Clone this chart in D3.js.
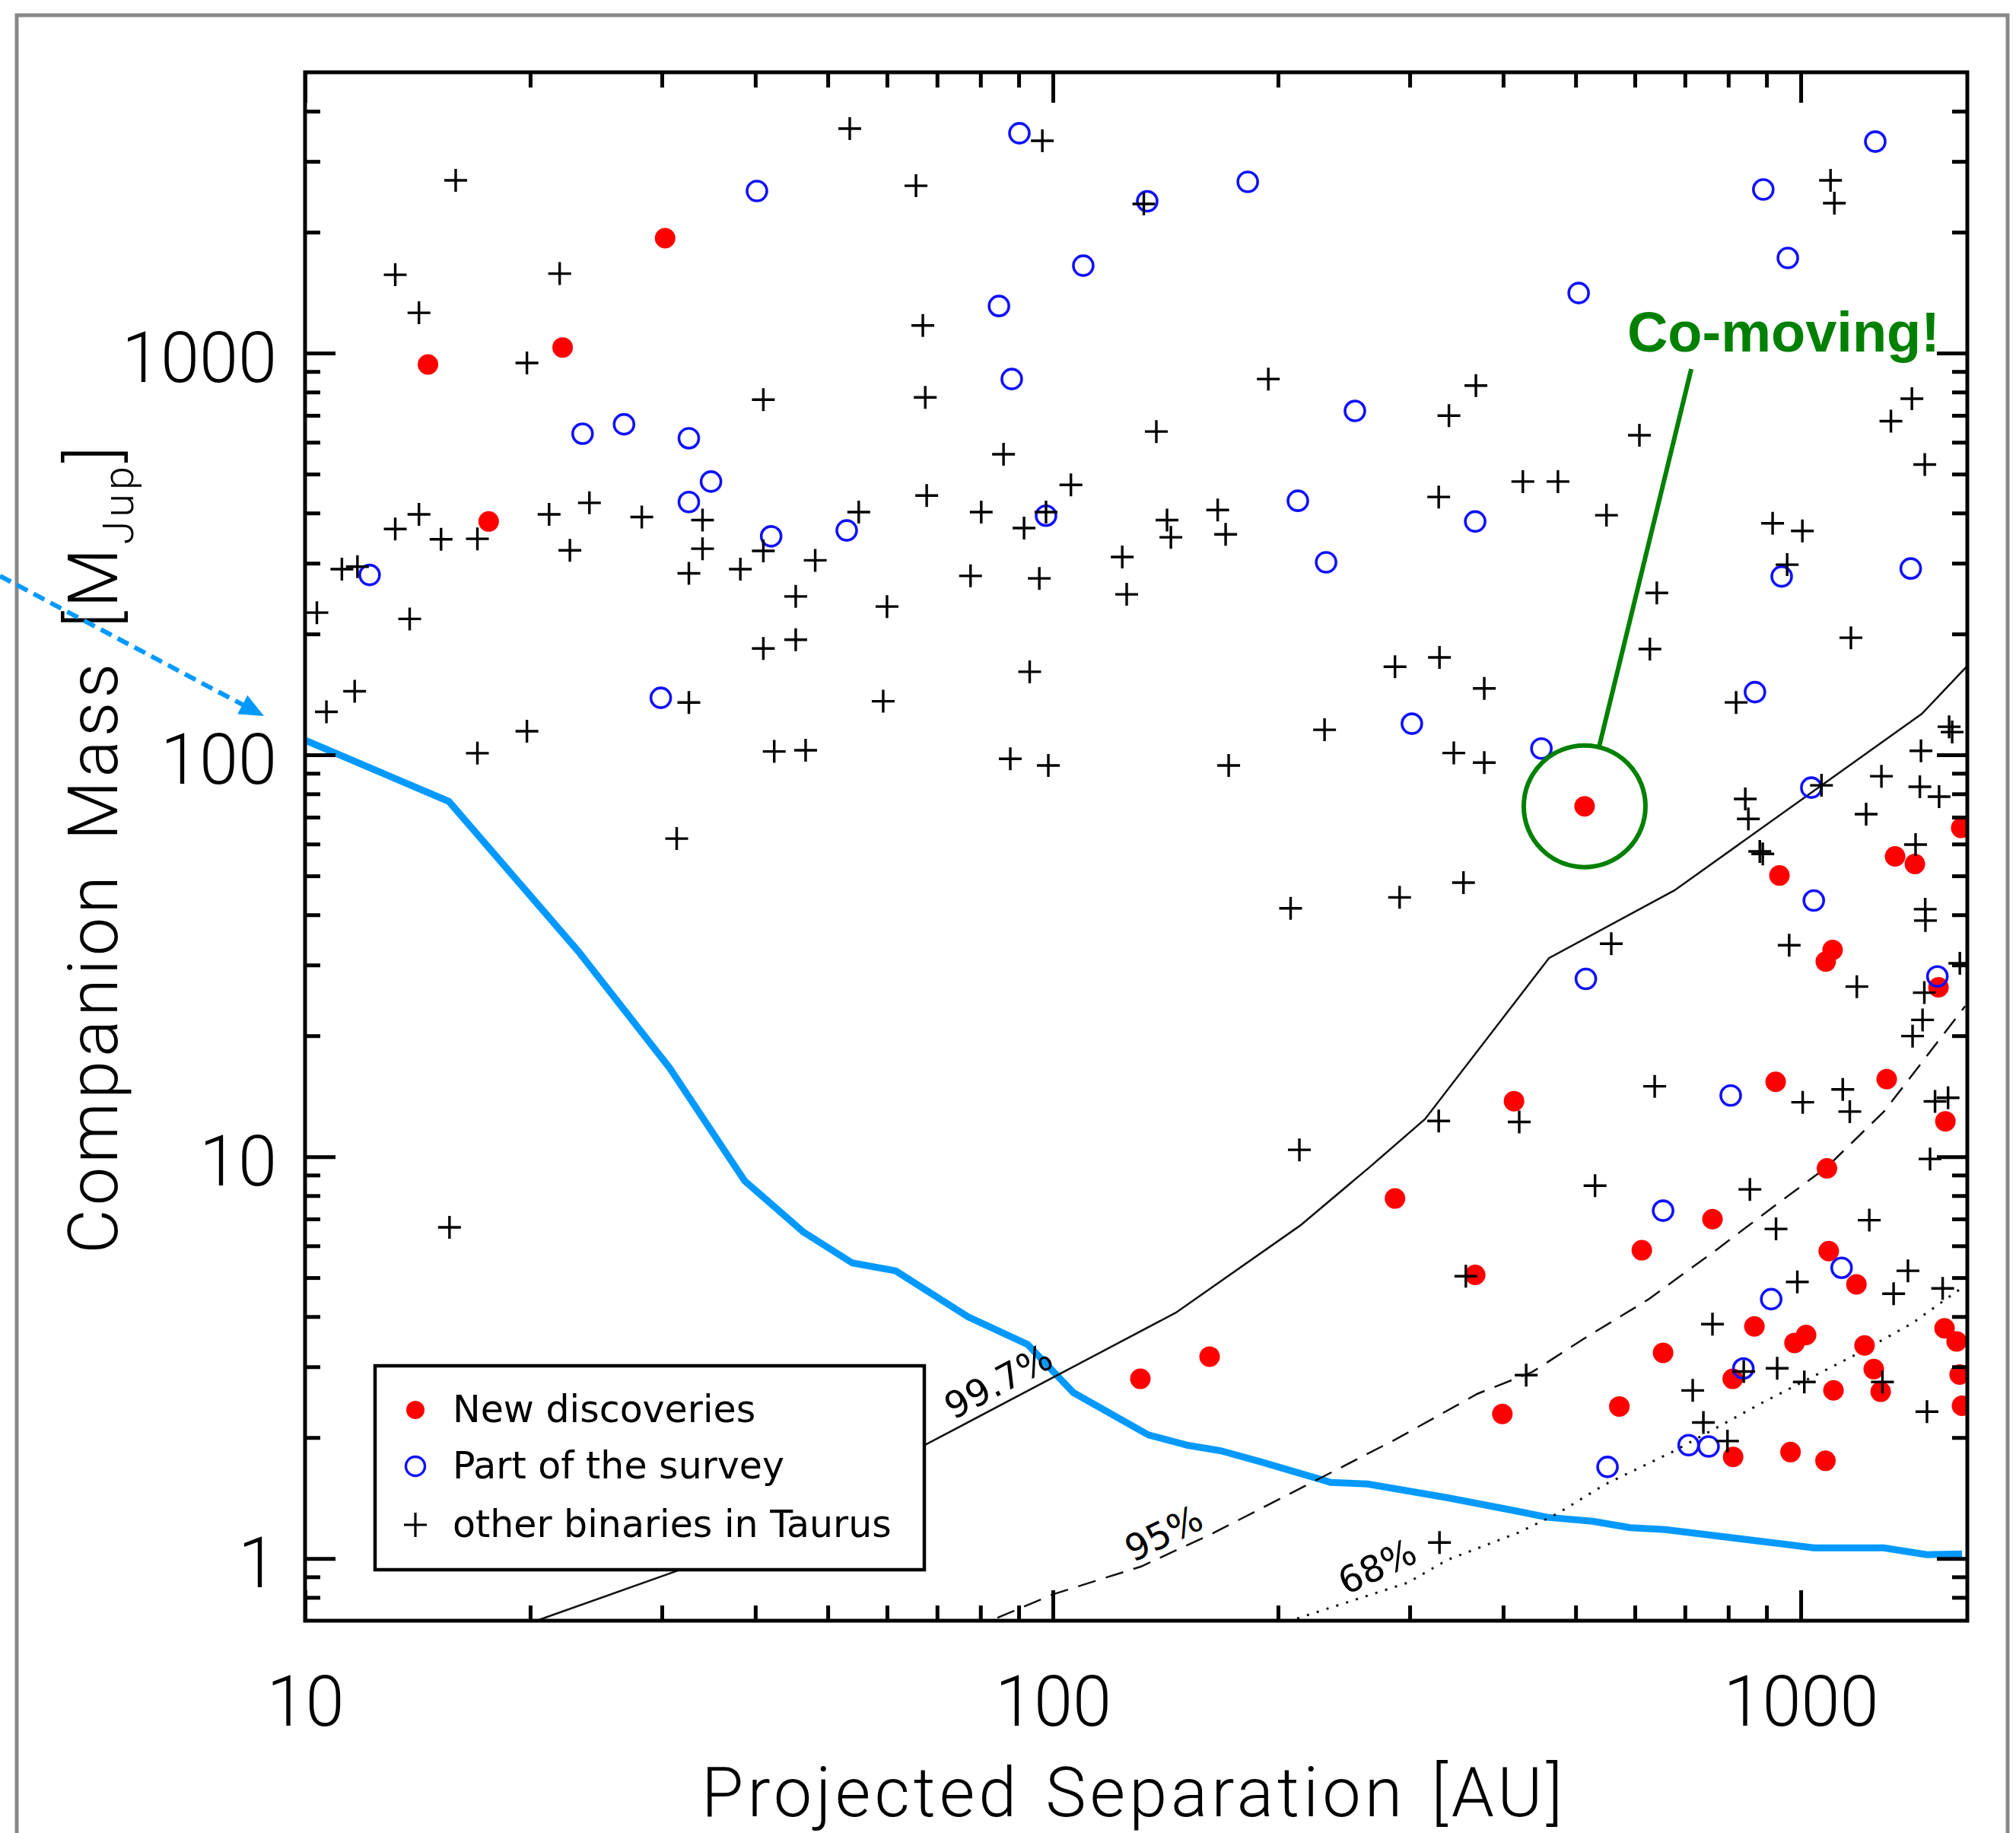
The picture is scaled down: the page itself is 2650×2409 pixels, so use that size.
<!DOCTYPE html>
<html>
<head>
<meta charset="utf-8">
<script src="https://cdn.jsdelivr.net/npm/d3@7"></script>
<style>
body { margin: 0; background: #fff; }
svg { display: block; }
</style>
</head>
<body>
<script>
// New discoveries (red dots): projected separation [AU], companion mass [MJup]
var newSep = [14.6, 22.1, 30.3, 17.6, 514, 130.9, 162, 286.7, 367, 399, 413.6, 572, 613, 654.5, 762,
  811, 812, 867, 925.6, 936.5, 969, 981, 1016.5, 1079, 1080, 1103, 1084, 1090, 1106, 1187, 1217,
  1252, 1279, 1303, 1337, 1421, 1528, 1561, 1557, 1616, 1631, 1643, 1639]
var newMass = [937, 1033, 1932, 381, 74.5, 2.80, 3.18, 7.87, 5.08, 2.29, 13.75, 2.39, 5.85, 3.25, 6.99,
  2.80, 1.79, 3.78, 15.36, 50.1, 1.84, 3.44, 3.60, 1.75, 30.6, 32.7, 9.35, 5.82, 2.62, 4.81, 3.39,
  2.96, 2.60, 15.6, 55.9, 53.5, 26.4, 12.25, 3.74, 3.47, 2.87, 2.40, 65.8]

// Part of the survey (blue open circles)
var surveySep = [12.2, 23.5, 26.7, 32.6, 34.9, 32.6, 29.9, 40.2, 42.0, 53.0, 84.7, 88.1, 90.2, 97.9,
  109.8, 133.7, 182.2, 212.6, 231.9, 253.4, 302, 367, 450, 504.7, 516, 551.6, 654.5, 708, 753, 806,
  838, 868.5, 891, 913, 943, 961, 1033, 1041, 1134, 1258, 1403, 1523]
var surveyMass = [280.5, 630, 665, 614, 479, 426, 138.7, 2532, 350, 362, 1310, 862, 3526, 394,
  1651, 2387, 2668, 429, 301.5, 718, 119.6, 381, 103.7, 1411, 27.7, 1.69, 7.34, 1.915, 1.90, 14.2,
  2.97, 143.3, 2554, 4.42, 278, 1725, 82.9, 43.4, 5.29, 3361, 291, 28.1]

// other binaries in Taurus (plus signs)
var otherSep = [15.9, 13.2, 14.2, 19.8, 21.9, 14.2, 13.2, 15.2, 17.0, 21.2, 24.0, 22.6, 28.2, 11.2,
  11.75, 10.37, 13.8, 11.65, 10.68, 17.0, 19.8, 31.4, 15.6, 53.5, 96.8, 65.6, 132.3, 67.0, 41.0,
  67.5, 194.1, 137.5, 85.9, 105.7, 67.8, 55.0, 80.2, 97.9, 91.5, 34.0, 34.0, 41.0, 48.1, 32.6, 38.2,
  45.3, 60.0, 77.6, 95.9, 123.8, 125.5, 142.1, 143.8, 166.1, 170.2, 41.0, 45.3, 93.1, 32.6, 59.3,
  230.8, 42.4, 46.7, 87.7, 98.6, 171.8, 207.9, 213.6, 530.8, 356.6, 429.4, 328.8, 1096, 1109, 367.8,
  338.5, 608.5, 1408, 1320, 1465, 425, 473.5, 328, 549.8, 917, 1005, 959, 642, 1167, 286.7, 328.8,
  628.4, 377.4, 343.6, 377.4, 819.5, 1579, 1594, 1448, 1282, 1443, 1531, 1223, 1066, 843, 851,
  881.5, 889.6, 1424, 354, 290.8, 1467, 1468, 558, 965, 1188.5, 1632, 1463, 1455, 1411, 637.8,
  1006, 1138, 1163, 1512, 1574, 1489, 328, 420.3, 855, 926.7, 1235, 1391, 989.5, 1331, 1548, 762,
  839, 930, 1011, 1286, 717, 1475, 741, 798]
var otherMass = [2691, 1567, 1260, 945, 1577, 397, 365, 344, 345, 397, 424, 323, 391, 290,
  294, 226, 218, 144, 128, 101, 114.5, 61.9, 6.67, 3620, 3376, 2610, 2351, 1172, 766,
  776, 862, 638, 560, 470, 442, 402, 402, 402, 367, 384, 326, 322, 305, 283, 290,
  248, 234, 279, 275, 311, 251, 384, 348, 407, 354, 184, 193.5, 161, 135, 136,
  115.5, 102, 102.7, 97.8, 94.1, 94.1, 41.5, 10.4, 8.47, 5.04, 2.86, 1.096, 2691, 2361, 830,
  699, 624.5, 770, 677, 528, 479, 479, 438.5, 395, 377, 361, 297.5, 253, 195.7, 165.8, 174.8,
  183.4, 146.4, 101.1, 95.7, 135.1, 117.5, 114, 102.4, 88.5, 83.3, 78.7, 71.2, 84.0, 77.7, 69.3,
  57.5, 56.7, 59.8, 48.1, 44.2, 41.3, 38.7, 33.9, 33.6, 26.5, 30.3, 25.6, 21.9, 19.96, 14.97,
  13.66, 14.7, 12.95, 13.73, 14.02, 9.87, 12.27, 12.2, 8.29, 6.61, 6.95, 5.20, 4.88, 4.56, 4.70, 3.83,
  2.92, 2.975, 2.75, 2.75, 2.62, 2.32, 2.18, 1.96]

// detection limit of the survey (thick blue line)
var limitSep = [10.02, 15.57, 23.24, 30.7, 38.7, 46.4, 53.9, 61.6, 77.1, 92.5, 106.4, 134.2, 151,
  167.8, 189.6, 235.1, 263.2, 336.5, 413.6, 458.4, 526.4, 591.7, 659, 1041, 1291, 1475, 1643]
var limitMass = [108.6, 76.6, 32.3, 16.66, 8.71, 6.49, 5.44, 5.20, 3.99, 3.41, 2.59, 2.03, 1.915,
  1.853, 1.740, 1.547, 1.533, 1.417, 1.316, 1.266, 1.238, 1.193, 1.180, 1.063, 1.063, 1.022, 1.026]

// chance-alignment contours
var c997Sep = [20.4, 31.5, 67.4, 146, 214.1, 265, 314.5, 460.6, 677.8, 1452, 1670]
var c997Mass = [0.70, 0.933, 1.915, 4.09, 6.74, 9.41, 12.41, 31.2, 46.0, 126.6, 166.6]
var c95Sep = [84.3, 100.2, 131.2, 162.8, 216.1, 286.7, 369.6, 437.4, 513.1, 624.5, 774.7, 925.6, 1083, 1294, 1659]
var c95Mass = [0.712, 0.815, 0.955, 1.150, 1.507, 1.975, 2.570, 2.911, 3.526, 4.405, 5.90, 7.58, 9.41, 12.99, 23.7]
var c68Sep = [212.1, 298, 336.5, 419.4, 472.7, 546.4, 676.2, 885.5, 1212, 1411, 1630]
var c68Mass = [0.709, 0.870, 0.991, 1.160, 1.293, 1.526, 1.849, 2.434, 3.289, 3.855, 4.67]

var contourLabels = ['99.7%', '95%', '68%']
var contourLabelSep = [84.5, 140.6, 271.3]
var contourLabelMass = [2.76, 1.157, 0.957]
var contourLabelAngle = [-28, -26, -25]

var xMajor = [10, 100, 1000]
var xMinor = [20, 30, 40, 50, 60, 70, 80, 90, 200, 300, 400, 500, 600, 700, 800, 900]
var yMajor = [1, 10, 100, 1000]
var yMinor = [0.8, 0.9, 2, 3, 4, 5, 6, 7, 8, 9, 20, 30, 40, 50, 60, 70, 80, 90,
  200, 300, 400, 500, 600, 700, 800, 900, 2000, 3000, 4000]

var legendLabels = ['New discoveries', 'Part of the survey', 'other binaries in Taurus']

// co-moving candidate
var comovSep = 514, comovMass = 74.5
var comovLabelSep = 586, comovLabelMass = 1009
var comovLineSep = 713.8, comovLineMass = 912.6

var margin = {top: 95, left: 401}
var width = 2185
var height = 2035
var axisFont = 'Roboto, "Open Sans", sans-serif'
var blue = '#0099ff'

var x = d3.scaleLog().domain([10, 1670]).range([0, width])
var y = d3.scaleLog().domain([0.7, 5000]).range([height, 0])

var svg = d3.select('body').append('svg')
  .attr('width', 2650)
  .attr('height', 2409)

// slide frame
svg.append('rect')
  .attr('x', 22).attr('y', 20)
  .attr('width', 2617).attr('height', 2500)
  .attr('fill', 'none')
  .attr('stroke', '#888')
  .attr('stroke-width', 5)

var g = svg.append('g')
  .attr('transform', `translate(${margin.left}, ${margin.top})`)

g.append('clipPath').attr('id', 'plotclip')
  .append('rect').attr('width', width).attr('height', height)

var plot = g.append('g').attr('clip-path', 'url(#plotclip)')

var line = d3.line().x(d => x(d[0])).y(d => y(d[1]))

plot.append('path')
  .datum(d3.zip(limitSep, limitMass))
  .attr('d', line)
  .attr('fill', 'none')
  .attr('stroke', blue)
  .attr('stroke-width', 9)
  .attr('stroke-linejoin', 'round')

plot.append('path')
  .datum(d3.zip(c997Sep, c997Mass))
  .attr('d', line)
  .attr('fill', 'none')
  .attr('stroke', '#111')
  .attr('stroke-width', 2.5)

plot.append('path')
  .datum(d3.zip(c95Sep, c95Mass))
  .attr('d', line)
  .attr('fill', 'none')
  .attr('stroke', '#111')
  .attr('stroke-width', 2.5)
  .attr('stroke-dasharray', '24,14')

plot.append('path')
  .datum(d3.zip(c68Sep, c68Mass))
  .attr('d', line)
  .attr('fill', 'none')
  .attr('stroke', '#111')
  .attr('stroke-width', 3)
  .attr('stroke-dasharray', '3,10.5')

plot.selectAll('text.clabel')
  .data(contourLabels)
  .enter().append('text')
  .attr('class', 'clabel')
  .attr('transform', (d, i) => `translate(${x(contourLabelSep[i])}, ${y(contourLabelMass[i])}) rotate(${contourLabelAngle[i]})`)
  .attr('text-anchor', 'middle')
  .attr('dy', '0.36em')
  .attr('font-family', '"DejaVu Sans", sans-serif')
  .attr('font-size', 48)
  .text(d => d)

// points: red first, then blue circles, plus signs on top
plot.selectAll('circle.new')
  .data(d3.zip(newSep, newMass))
  .enter().append('circle')
  .attr('class', 'new')
  .attr('cx', d => x(d[0]))
  .attr('cy', d => y(d[1]))
  .attr('r', 13.5)
  .attr('fill', '#ff0000')

plot.selectAll('circle.survey')
  .data(d3.zip(surveySep, surveyMass))
  .enter().append('circle')
  .attr('class', 'survey')
  .attr('cx', d => x(d[0]))
  .attr('cy', d => y(d[1]))
  .attr('r', 13)
  .attr('fill', 'none')
  .attr('stroke', '#1010ff')
  .attr('stroke-width', 3.6)

var plusPath = 'M-15,0H15M0,-15V15'
plot.selectAll('path.other')
  .data(d3.zip(otherSep, otherMass))
  .enter().append('path')
  .attr('class', 'other')
  .attr('transform', d => `translate(${x(d[0])}, ${y(d[1])})`)
  .attr('d', plusPath)
  .attr('stroke', '#000')
  .attr('stroke-width', 3.4)

// axes, ticks inward on all four sides
function styleAxis(sel, labels) {
  sel.select('.domain').remove()
  sel.selectAll('line').attr('stroke', '#000').attr('stroke-width', 5)
  sel.attr('font-family', axisFont).attr('font-size', labels ? 92 : 10).attr('font-weight', 300)
  if (!labels) sel.selectAll('text').remove()
  return sel
}

styleAxis(g.append('g').attr('transform', `translate(0, ${height})`)
  .call(d3.axisBottom(x).tickValues(xMajor).tickSize(-40).tickPadding(73).tickFormat(d3.format('d'))), true)
styleAxis(g.append('g').attr('transform', `translate(0, ${height})`)
  .call(d3.axisBottom(x).tickValues(xMinor).tickSize(-20)), false)
styleAxis(g.append('g')
  .call(d3.axisTop(x).tickValues(xMajor).tickSize(-40)), false)
styleAxis(g.append('g')
  .call(d3.axisTop(x).tickValues(xMinor).tickSize(-20)), false)

var yl = styleAxis(g.append('g')
  .call(d3.axisLeft(y).tickValues(yMajor).tickSize(-40).tickPadding(37).tickFormat(d3.format('d'))), true)
yl.selectAll('text').attr('dy', '0.41em')
styleAxis(g.append('g')
  .call(d3.axisLeft(y).tickValues(yMinor).tickSize(-20)), false)
styleAxis(g.append('g').attr('transform', `translate(${width}, 0)`)
  .call(d3.axisRight(y).tickValues(yMajor).tickSize(-40)), false)
styleAxis(g.append('g').attr('transform', `translate(${width}, 0)`)
  .call(d3.axisRight(y).tickValues(yMinor).tickSize(-20)), false)

g.append('rect')
  .attr('width', width).attr('height', height)
  .attr('fill', 'none')
  .attr('stroke', '#000')
  .attr('stroke-width', 5)

// axis titles
svg.append('text')
  .attr('x', margin.left + width / 2 - 3)
  .attr('y', 2387)
  .attr('text-anchor', 'middle')
  .attr('font-family', axisFont)
  .attr('font-weight', 300)
  .attr('font-size', 90)
  .attr('letter-spacing', 5)
  .attr('word-spacing', 6)
  .text('Projected Separation [AU]')

var yt = svg.append('text')
  .attr('transform', `translate(154, ${margin.top + height / 2 + 2}) rotate(-90)`)
  .attr('text-anchor', 'middle')
  .attr('font-family', axisFont)
  .attr('font-weight', 300)
  .attr('font-size', 90)
  .attr('letter-spacing', 5)
  .attr('word-spacing', 15)
yt.append('tspan').text('Companion Mass [M')
yt.append('tspan').attr('font-size', 56).attr('dy', 21).text('Jup')
yt.append('tspan').attr('dy', -21).text(']')

// legend
var lg = svg.append('g').attr('transform', 'translate(493, 1795)')
lg.append('rect')
  .attr('width', 722).attr('height', 268)
  .attr('fill', '#fff')
  .attr('stroke', '#000')
  .attr('stroke-width', 4.5)
var rows = lg.selectAll('g.row')
  .data(legendLabels)
  .enter().append('g')
  .attr('class', 'row')
  .attr('transform', (d, i) => `translate(0, ${[58, 132, 209][i]})`)
rows.append('text')
  .attr('x', 102)
  .attr('y', 16)
  .attr('font-family', '"DejaVu Sans", sans-serif')
  .attr('font-size', 49)
  .text(d => d)
rows.filter((d, i) => i === 0).append('circle')
  .attr('cx', 53).attr('r', 12).attr('fill', '#ff0000')
rows.filter((d, i) => i === 1).append('circle')
  .attr('cx', 53).attr('r', 12.5).attr('fill', 'none').attr('stroke', '#1010ff').attr('stroke-width', 3.4)
rows.filter((d, i) => i === 2).append('path')
  .attr('transform', 'translate(53, 0)')
  .attr('d', 'M-15,0H15M0,-16V16').attr('stroke', '#000').attr('stroke-width', 3.2)

// co-moving annotation
var cx0 = margin.left + x(comovSep), cy0 = margin.top + y(comovMass)
var lx1 = margin.left + x(comovLineSep), ly1 = margin.top + y(comovLineMass)
var ang = Math.atan2(ly1 - cy0, lx1 - cx0)
svg.append('circle')
  .attr('cx', cx0).attr('cy', cy0).attr('r', 80)
  .attr('fill', 'none').attr('stroke', '#008000').attr('stroke-width', 6)
svg.append('line')
  .attr('x1', cx0 + 80 * Math.cos(ang)).attr('y1', cy0 + 80 * Math.sin(ang))
  .attr('x2', lx1).attr('y2', ly1)
  .attr('stroke', '#008000').attr('stroke-width', 6)
svg.append('text')
  .attr('x', margin.left + x(comovLabelSep))
  .attr('y', margin.top + y(comovLabelMass))
  .attr('font-family', '"Liberation Sans", Arial, sans-serif')
  .attr('font-weight', 'bold')
  .attr('font-size', 74)
  .attr('fill', '#008000')
  .text('Co-moving!')

// dotted arrow coming in from the left
var ax0 = 0, ay0 = 757, ax1 = 347, ay1 = 941
var alen = Math.hypot(ax1 - ax0, ay1 - ay0)
var ux = (ax1 - ax0) / alen, uy = (ay1 - ay0) / alen
svg.append('line')
  .attr('x1', ax0).attr('y1', ay0)
  .attr('x2', ax1 - 28 * ux).attr('y2', ay1 - 28 * uy)
  .attr('stroke', blue).attr('stroke-width', 6)
  .attr('stroke-dasharray', '16,9')
svg.append('path')
  .attr('d', `M${ax1},${ay1}L${ax1 - 32 * ux - 14 * uy},${ay1 - 32 * uy + 14 * ux}L${ax1 - 32 * ux + 14 * uy},${ay1 - 32 * uy - 14 * ux}Z`)
  .attr('fill', blue)
</script>
</body>
</html>
